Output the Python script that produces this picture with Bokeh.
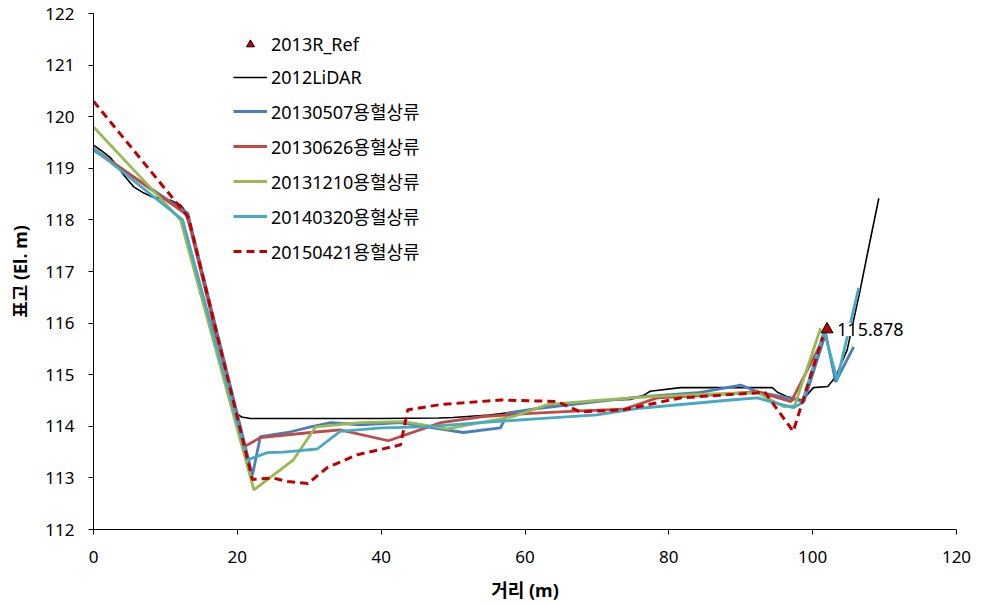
from bokeh.plotting import figure
from bokeh.models import Legend, LegendItem, Label, FixedTicker, Range1d
from bokeh.embed import file_html
from bokeh.resources import INLINE

# ---- data ----
ref_x = [102.0]
ref_y = [115.878]

lidar_x = [0, 1, 2.4, 4.2, 5.6, 7, 8.3, 10.7, 12.1, 12.6, 14, 16, 18, 19, 19.8, 20.6, 21.8,
           30, 40, 48, 50, 55, 60, 62, 65, 70, 74.7, 76.5, 77.4, 81.6, 88, 94.4, 95.1,
           96.5, 98.6, 100.1, 102.1, 103.2, 104.8, 106.6, 107.8, 109.2]
lidar_y = [119.45, 119.35, 119.2, 118.87, 118.64, 118.52, 118.44, 118.38, 118.29, 118.2, 117.6,
           116.4, 115.0, 114.45, 114.25, 114.18, 114.15,
           114.15, 114.15, 114.16, 114.17, 114.22, 114.3, 114.36, 114.42, 114.5, 114.52, 114.6,
           114.68, 114.75, 114.75, 114.75, 114.66,
           114.57, 114.51, 114.75, 114.77, 114.96, 115.48, 116.64, 117.47, 118.42]

s0507_x = [0, 13.1, 22.1, 23.2, 27, 30.2, 33, 37.1, 42.7, 51.4, 56.6, 57.6, 62, 70, 76,
           84, 90, 92.3, 96.5, 98.8, 101.8, 103.2, 105.7]
s0507_y = [119.35, 118.13, 113.05, 113.8, 113.88, 113.99, 114.07, 114.03, 114.07, 113.88,
           113.97, 114.26, 114.35, 114.48, 114.57, 114.65, 114.8, 114.67, 114.55, 114.48,
           115.8, 114.86, 115.54]

s0626_x = [0, 13, 20.9, 23.2, 30.2, 34.3, 41, 48.3, 54.2, 60.8, 67.7, 73.7, 78.4, 85,
           92.3, 97, 101.5]
s0626_y = [119.38, 118.1, 113.6, 113.78, 113.88, 113.93, 113.72, 114.07, 114.19, 114.25,
           114.3, 114.33, 114.55, 114.6, 114.67, 114.48, 115.7]

s1210_x = [0, 12.1, 22.3, 27.8, 30.9, 37.1, 43.1, 49.2, 58.4, 63.1, 70, 77, 84, 92.3,
           96, 97.5, 101.1]
s1210_y = [119.8, 118.0, 112.77, 113.35, 113.99, 114.07, 114.09, 113.95, 114.19, 114.42,
           114.5, 114.57, 114.62, 114.65, 114.38, 114.4, 115.9]

s0320_x = [0, 12.4, 21.4, 24.2, 26.4, 31.1, 34.3, 40, 46, 53.8, 62, 70, 76, 88.6, 92.3,
           97.3, 98.5, 101.6, 103.4, 106.4]
s0320_y = [119.38, 118.0, 113.35, 113.49, 113.5, 113.56, 113.9, 113.97, 113.99, 114.07,
           114.15, 114.22, 114.35, 114.51, 114.55, 114.36, 114.45, 115.85, 114.9, 116.68]

s0421_x = [0, 13.2, 22.1, 24.9, 27, 29.8, 32.5, 36.7, 42.7, 43.7, 48.2, 56.6, 64.5, 67.7,
           73.7, 81.6, 92.3, 93.3, 97.3, 101.4]
s0421_y = [120.3, 118.05, 112.97, 113.0, 112.93, 112.89, 113.2, 113.45, 113.64, 114.32,
           114.42, 114.51, 114.48, 114.28, 114.32, 114.55, 114.65, 114.67, 113.9, 115.73]

labels = ["2013R_Ref", "2012LiDAR", "20130507용혈상류", "20130626용혈상류",
          "20131210용혈상류", "20140320용혈상류", "20150421용혈상류"]
x_ticks = [0, 20, 40, 60, 80, 100, 120]
y_ticks = [112, 113, 114, 115, 116, 117, 118, 119, 120, 121, 122]

FONT = "'Noto Sans', 'Noto Sans CJK KR'"

p = figure(width=974, height=604, output_backend="svg", toolbar_location=None,
           x_range=Range1d(0, 120), y_range=Range1d(112, 122),
           min_border_left=93, min_border_top=13, min_border_right=18, min_border_bottom=74)
p.outline_line_color = None
p.grid.visible = False
p.background_fill_color = "white"

for ax in (p.xaxis[0], p.yaxis[0]):
    ax.axis_line_color = "black"
    ax.major_tick_line_color = "black"
    ax.minor_tick_line_color = None
    ax.major_label_text_font = FONT
    ax.major_label_text_font_size = "17px"
    ax.major_label_text_color = "black"
    ax.axis_label_text_font = FONT
    ax.axis_label_text_font_size = "18px"
    ax.axis_label_text_font_style = "bold"
    ax.axis_label_text_color = "black"
    ax.major_tick_out = 5
    ax.major_tick_in = 0

p.xaxis.ticker = FixedTicker(ticks=x_ticks)
p.yaxis.ticker = FixedTicker(ticks=y_ticks)
p.xaxis.axis_label = "거리 (m)"
p.yaxis.axis_label = "표고 (El. m)"
p.yaxis.major_label_standoff = 14
p.yaxis.axis_label_standoff = 10
p.xaxis.major_label_standoff = 16
p.xaxis.axis_label_standoff = 12

r_lidar = p.line(lidar_x, lidar_y, line_color="black", line_width=1.6)
r1 = p.line(s0507_x, s0507_y, line_color="#4A7EBB", line_width=2.8)
r2 = p.line(s0626_x, s0626_y, line_color="#BE4B48", line_width=2.8)
r3 = p.line(s1210_x, s1210_y, line_color="#98B954", line_width=2.8)
r4 = p.line(s0320_x, s0320_y, line_color="#46AAC5", line_width=2.8)
r5 = p.line(s0421_x, s0421_y, line_color="#C00000", line_width=3, line_dash="8 5")
r_ref = p.scatter(ref_x, ref_y, marker="triangle", size=12, fill_color="#C00000",
                  line_color="black", line_width=1)

lab = Label(x=ref_x[0], y=ref_y[0], text="115.878", x_offset=10, text_baseline="middle",
            text_font=FONT, text_font_size="18px", text_color="black",
            background_fill_color="white")
p.add_layout(lab)

legend = Legend(items=[LegendItem(label=l, renderers=[r]) for l, r in
                       zip(labels, [r_ref, r_lidar, r1, r2, r3, r4, r5])],
                location=(140, 265), orientation="vertical")
legend.border_line_color = None
legend.background_fill_alpha = 0
legend.padding = 0
legend.margin = 0
legend.spacing = 9
legend.label_height = 20
legend.glyph_height = 20
legend.glyph_width = 34
legend.label_standoff = 4
legend.label_text_font = FONT
legend.label_text_font_size = "18px"
legend.label_text_color = "black"
p.add_layout(legend)

open("out.html", "w").write(file_html(p, INLINE))
